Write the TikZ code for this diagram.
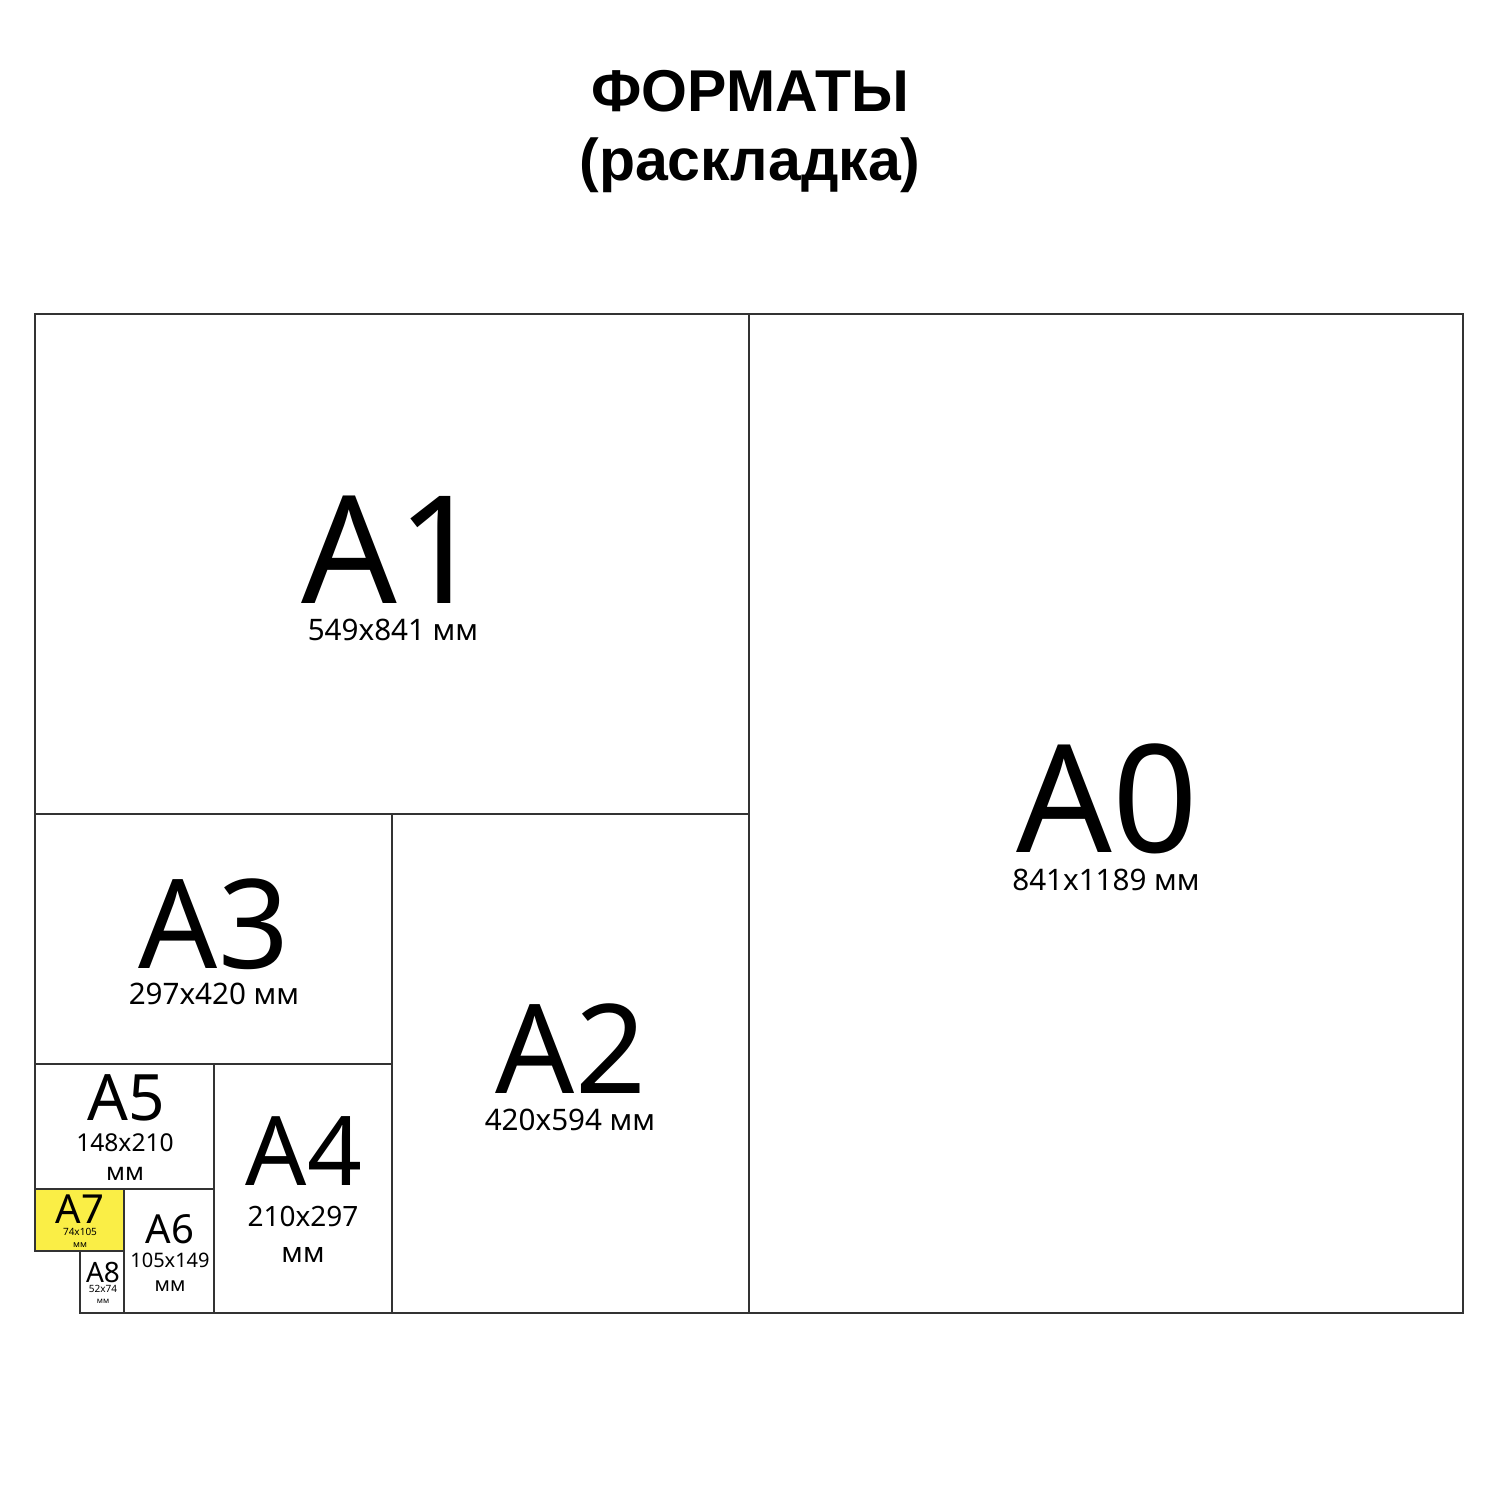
\documentclass[tikz,border=0pt]{standalone}
\usepackage{fontspec}
\setmainfont{Noto Sans}
\newfontfamily\titlefont{Liberation Sans}
\definecolor{sheetyellow}{RGB}{250,238,70}
\tikzset{
  sheet/.style={draw=black!80,line width=0.8pt},
  fs/.style={font=\fontsize{#1}{#1}\selectfont,anchor=base,inner sep=0pt},
  titletext/.style={font=\fontsize{29.5}{29.5}\selectfont\titlefont\bfseries,anchor=base,inner sep=0pt}
}
\begin{document}
\begin{tikzpicture}[x=0.5pt,y=-0.5pt]
      \useasboundingbox (0,0) rectangle (1500,1500);

      % title
      \node[titletext] (title) at (750,111) {ФОРМАТЫ};
      \node[titletext] (subtitle) at (750,180) {(раскладка)};

      % sheets
      \fill[sheetyellow] (35,1189) rectangle (124,1251);
      \foreach \xa/\ya/\xb/\yb in {749/314/1463/1313, 35/314/749/814, 392/814/749/1313,
          35/814/392/1064, 214/1064/392/1313, 35/1064/214/1189, 124/1189/214/1313,
          35/1189/124/1251, 80/1251/124/1313} {
          \draw[sheet] (\xa,\ya) rectangle (\xb,\yb);
        }

      % labels
      \node[fs=75] (a0) at (1107,852) {A0};
      \node[fs=14.8] (a0size) at (1106,890) {841x1189 мм};
      \node[fs=75] (a1) at (392,603) {A1};
      \node[fs=14.8] (a1size) at (393,640) {549x841 мм};
      \node[fs=62] (a2) at (571,1093) {A2};
      \node[fs=14.8] (a2size) at (570,1130) {420x594 мм};
      \node[fs=62] (a3) at (214,968) {A3};
      \node[fs=14.8] (a3size) at (214,1004) {297x420 мм};
      \node[fs=48] (a4) at (304,1185) {A4};
      \node[fs=14] (a4size) at (303,1226) {210x297};
      \node[fs=14] (a4mm) at (303,1262) {мм};
      \node[fs=32] (a5) at (126,1120) {A5};
      \node[fs=12.3] (a5size) at (125,1151) {148x210};
      \node[fs=12.3] (a5mm) at (125,1180) {мм};
      \node[fs=20] (a6) at (170,1243) {A6};
      \node[fs=10] (a6size) at (170,1267) {105x149};
      \node[fs=10] (a6mm) at (170,1291) {мм};
      \node[fs=20] (a7) at (80,1223) {A7};
      \node[fs=5,font=\fontsize{5}{5}\selectfont\bfseries] (a7size) at (80,1235) {74x105};
      \node[fs=4.5,font=\fontsize{4.5}{4.5}\selectfont\bfseries] (a7mm) at (80,1247) {мм};
      \node[fs=14] (a8) at (103,1282) {A8};
      \node[fs=5] (a8size) at (103,1292) {52x74};
      \node[fs=4] (a8mm) at (103,1303) {мм};
    \end{tikzpicture}
\end{document}
